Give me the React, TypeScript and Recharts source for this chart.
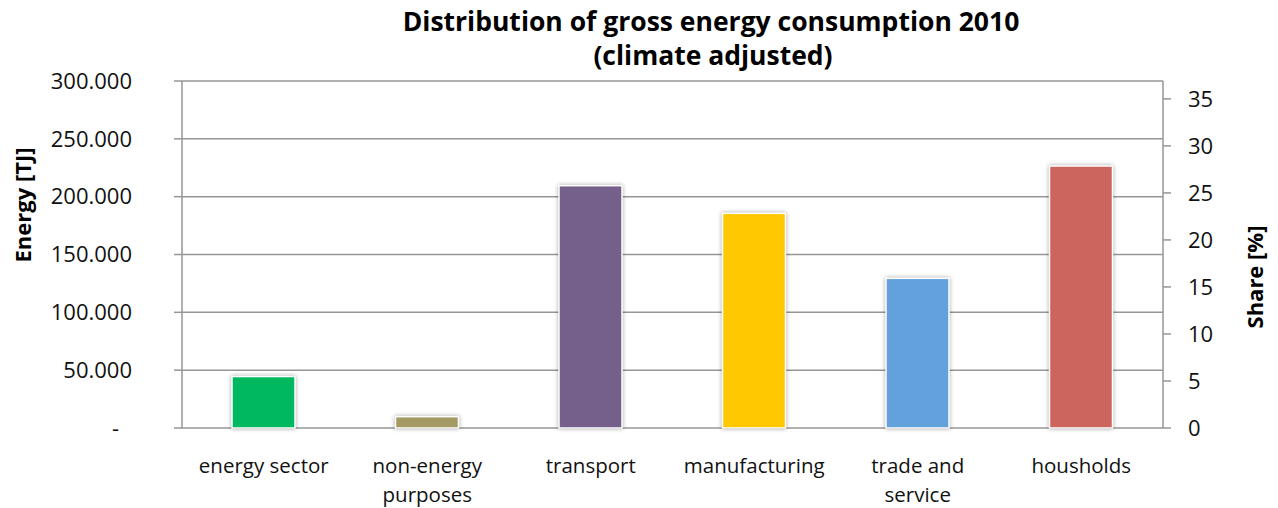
import { BarChart, Bar, XAxis, YAxis, CartesianGrid } from 'recharts'

// category labels, one entry per printed line
const categoryLines = [
  ['energy sector'],
  ['non-energy', 'purposes'],
  ['transport'],
  ['manufacturing'],
  ['trade and', 'service'],
  ['housholds'],
]
const energyTJ = [44500, 9800, 209500, 185600, 129400, 226500]
const barColors = ['#00b860', '#a69a64', '#755f8b', '#ffc800', '#63a1dc', '#cb655e']
const energyTicks = [0, 50000, 100000, 150000, 200000, 250000, 300000]
const shareTicks = [0, 5, 10, 15, 20, 25, 30, 35]
const SHARE_MAX = 36.9

const FONT = '"Open Sans", "Noto Sans", sans-serif'
const LABEL_SIZE = 20.5
const NUM_SIZE = 22
const GRID = '#969696'

const data = categoryLines.map((lines, i) => ({ name: lines.join(' '), energy: energyTJ[i] }))
// tick positions on the boundaries between categories
const edges = categoryLines.map((_c, i) => i).concat(categoryLines.length)

function ShadowBar(props: any) {
  const { x, y, width, height, index } = props
  return (
    <rect
      x={x}
      y={y}
      width={width}
      height={height}
      fill={barColors[index % barColors.length]}
      stroke="#fff"
      strokeWidth={1.5}
      style={{ filter: 'drop-shadow(0px 0px 2px rgba(0,0,0,0.35))' }}
    />
  )
}

function EnergyTick(props: any) {
  const { x, y, payload } = props
  const v = payload.value as number
  const label = v === 0 ? '-' : `${v / 1000}.000`
  return (
    <text x={v === 0 ? x - 13 : x} y={y} dy="0.35em" textAnchor="end" fontFamily={FONT} fontSize={NUM_SIZE} fill="#111">
      {label}
    </text>
  )
}

function CategoryTick(props: any) {
  const { x, y, index } = props
  const lines = categoryLines[index] ?? []
  return (
    <text x={x} y={y} textAnchor="middle" fontFamily={FONT} fontSize={LABEL_SIZE} fill="#111">
      {lines.map((line, i) => (
        <tspan key={line} x={x} dy={i === 0 ? '0.71em' : 29}>
          {line}
        </tspan>
      ))}
    </text>
  )
}

export default function App() {
  return (
    <div style={{ position: 'absolute', left: 0, top: 0, width: 1278, height: 508, background: '#fff' }}>
      <BarChart width={1278} height={508} data={data} margin={{ top: 81, right: 0, bottom: 10, left: 0 }}>
        <CartesianGrid xAxisId="cat" yAxisId="energy" vertical={false} stroke={GRID} strokeWidth={1.5} />
        <XAxis
          xAxisId="edges"
          type="number"
          domain={[0, categoryLines.length]}
          ticks={edges}
          tick={false}
          tickSize={8}
          stroke={GRID}
          strokeWidth={1.5}
          height={0}
        />
        <XAxis
          xAxisId="cat"
          dataKey="name"
          axisLine={false}
          tickLine={false}
          tickSize={8}
          tickMargin={22}
          interval={0}
          tick={<CategoryTick />}
          height={70}
        />
        <YAxis
          yAxisId="energy"
          domain={[0, 300000]}
          ticks={energyTicks}
          width={182}
          tickSize={8}
          tickMargin={42}
          stroke={GRID}
          strokeWidth={1.5}
          tick={<EnergyTick />}
        />
        <YAxis
          yAxisId="share"
          orientation="right"
          type="number"
          domain={[0, SHARE_MAX]}
          ticks={shareTicks}
          allowDataOverflow
          width={115}
          tickSize={8}
          tickMargin={17}
          stroke={GRID}
          strokeWidth={1.5}
          tick={{ fontFamily: FONT, fontSize: NUM_SIZE, fill: '#111' }}
        />
        <Bar
          xAxisId="cat"
          yAxisId="energy"
          dataKey="energy"
          barSize={63}
          shape={<ShadowBar />}
          isAnimationActive={false}
        />
      </BarChart>
      <svg width={1278} height={508} style={{ position: 'absolute', left: 0, top: 0, pointerEvents: 'none' }}>
        <g fontFamily={FONT} fontWeight="bold" fill="#000" textAnchor="middle">
          <text x={711} y={31} fontSize={26.5}>Distribution of gross energy consumption 2010</text>
          <text x={713} y={65} fontSize={26.5}>(climate adjusted)</text>
          <text x={22} y={205} fontSize={22} dominantBaseline="central" transform="rotate(-90, 22, 205)">
            Energy [TJ]
          </text>
          <text x={1254} y={277} fontSize={22} dominantBaseline="central" transform="rotate(-90, 1254, 277)">
            Share [%]
          </text>
        </g>
      </svg>
    </div>
  )
}
